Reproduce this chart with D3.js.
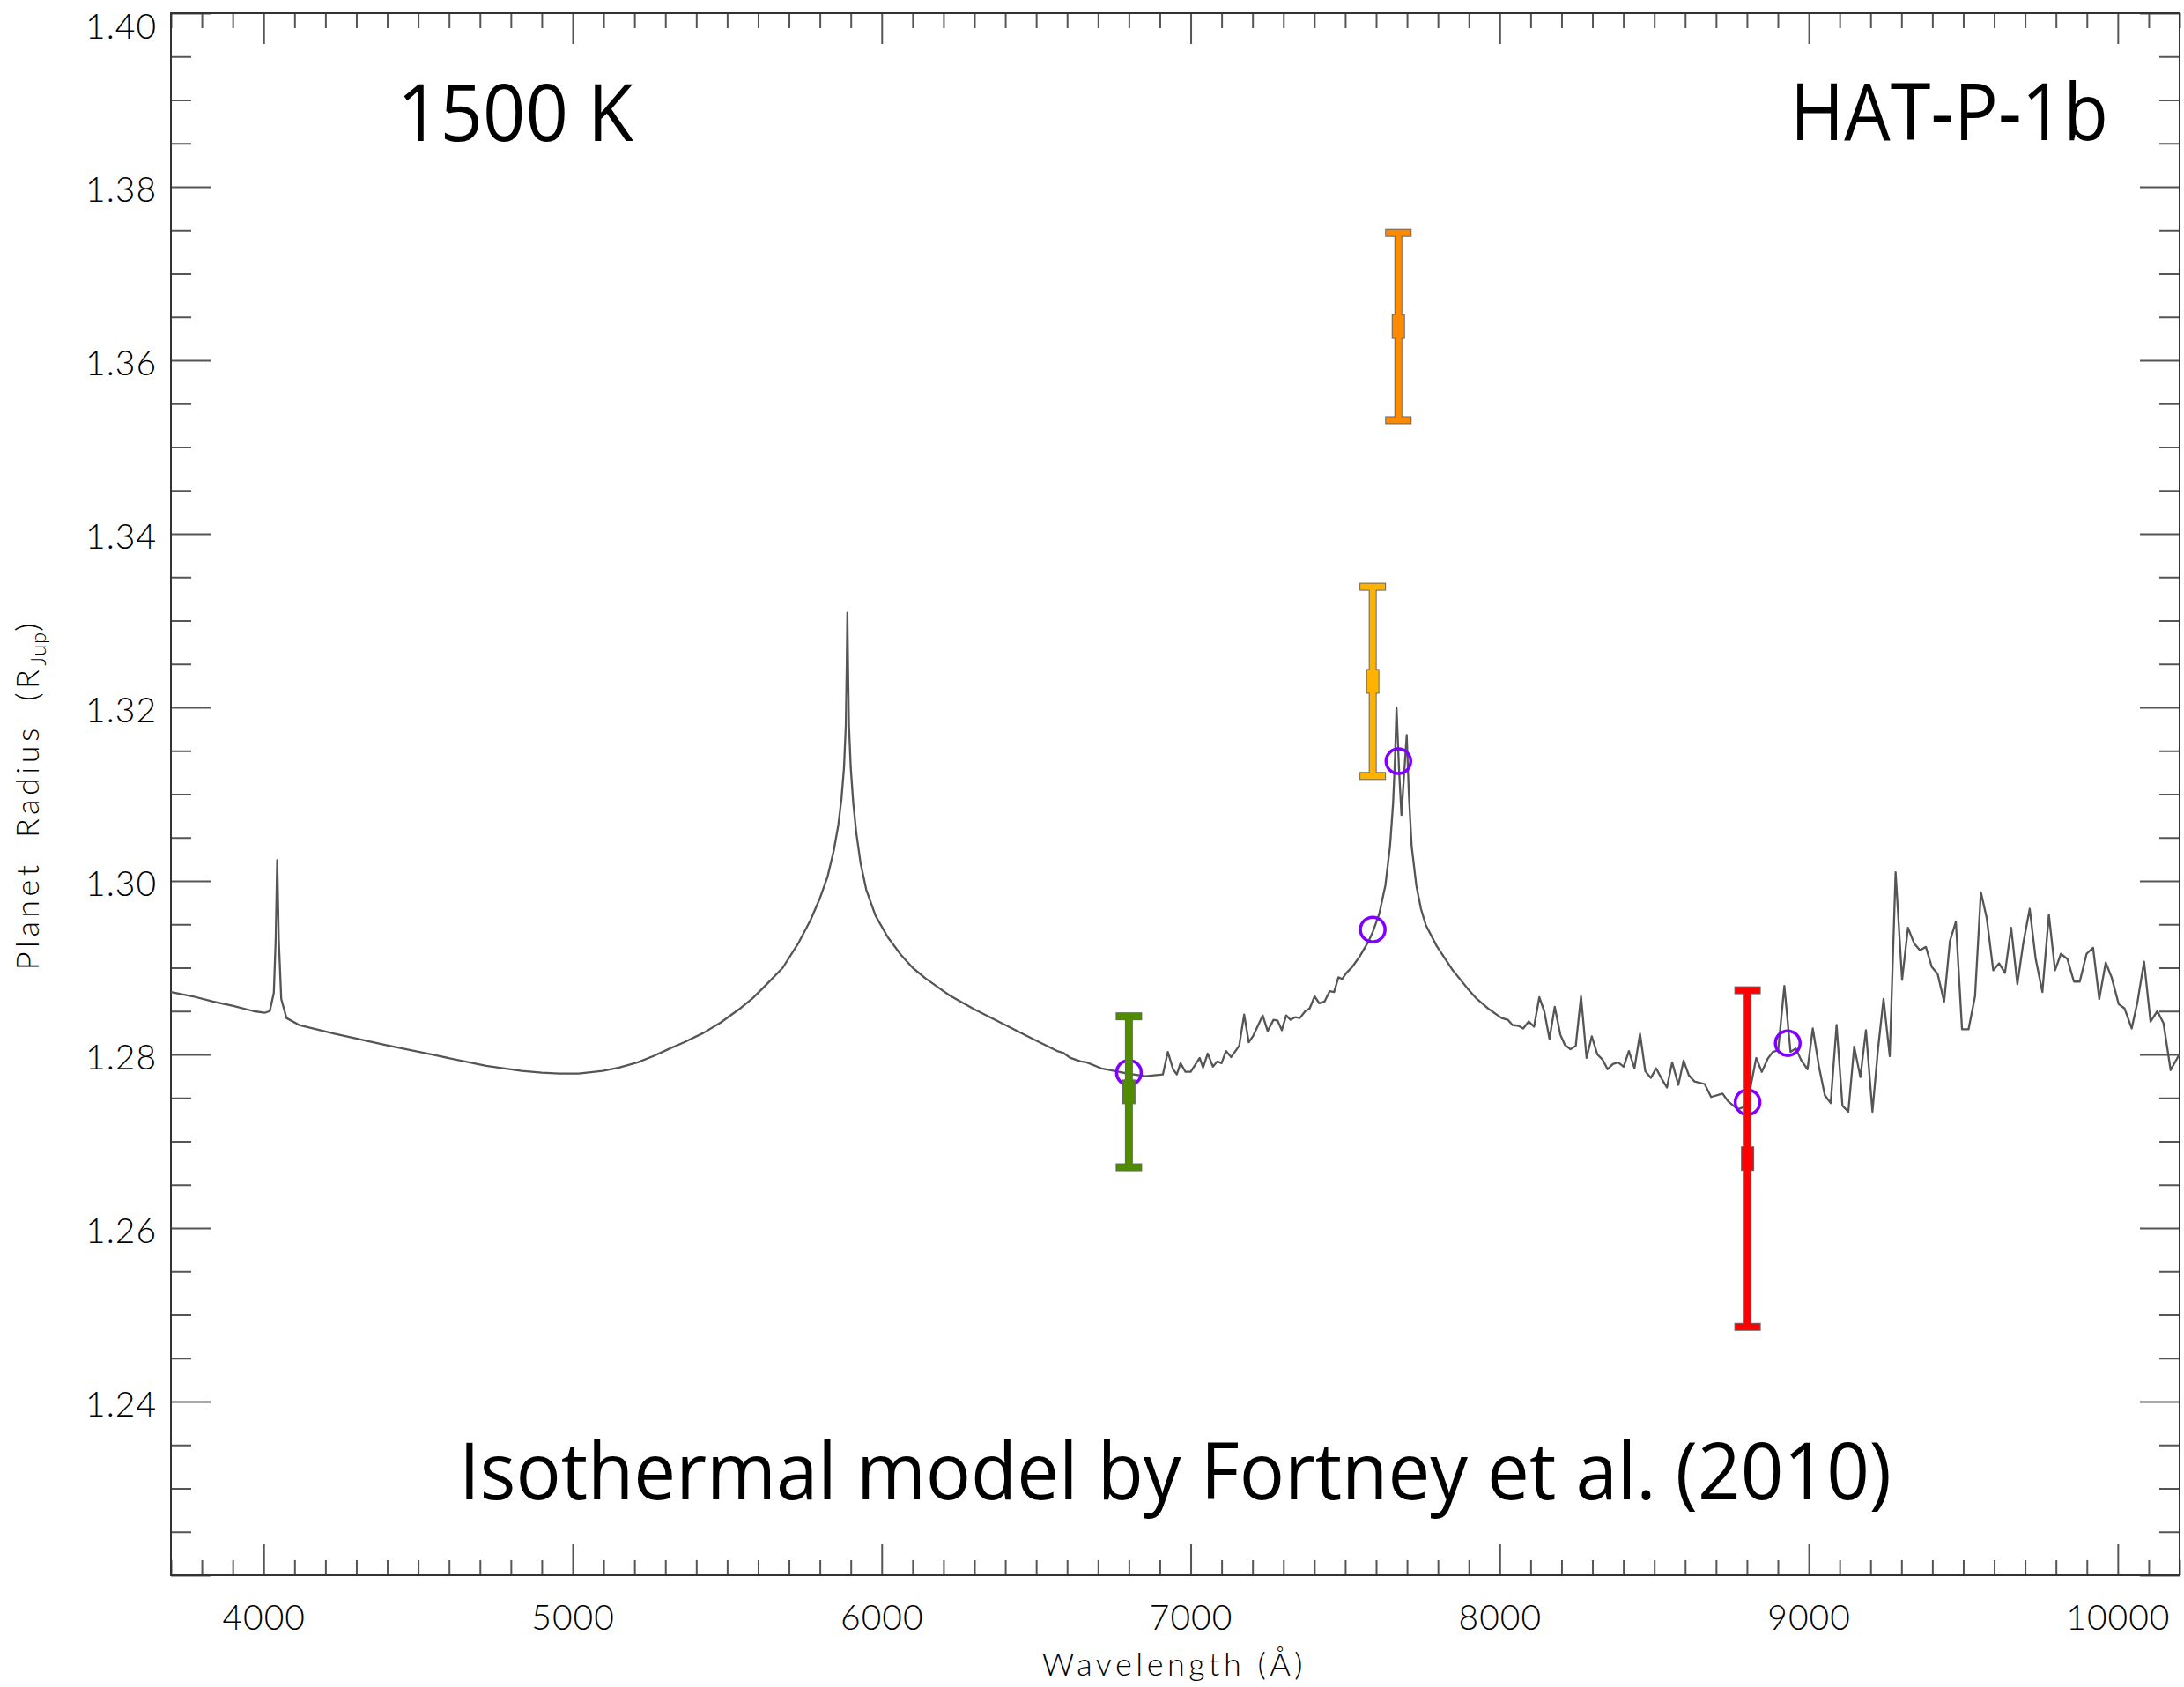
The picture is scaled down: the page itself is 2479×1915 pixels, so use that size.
<!DOCTYPE html>
<html>
<head>
<meta charset="utf-8">
<script src="https://cdn.jsdelivr.net/npm/d3@7"></script>
<style>
  html, body { margin: 0; padding: 0; background: #fff; }
  svg { display: block; }
</style>
</head>
<body>
<script>
// ---------------- data ----------------
const wavelength = [3700,3771,3836,3902,3967,4003,4020,4033,4039,4044,4049,4057,4074,4115,4229,4393,4556,4720,4835,4900,4957,5020,5097,5150,5211,5260,5309,5360,5424,5480,5538,5580,5620,5680,5730,5770,5800,5825,5845,5860,5870,5878,5884,5887,5889,5891,5894,5900,5908,5918,5932,5950,5980,6020,6062,6100,6141,6180,6220,6300,6400,6500,6568,6587,6611,6644,6663,6711,6753,6796,6853,6910,6926,6943,6955,6967,6983,7000,7029,7040,7055,7072,7086,7100,7114,7131,7157,7173,7188,7203,7233,7249,7268,7281,7295,7309,7323,7338,7353,7371,7385,7401,7416,7433,7450,7464,7478,7490,7504,7523,7547,7575,7590,7610,7630,7645,7655,7661,7666,7674,7682,7690,7699,7706,7715,7730,7745,7761,7796,7846,7896,7926,7966,8006,8026,8041,8061,8076,8094,8111,8128,8144,8161,8178,8196,8211,8229,8246,8263,8281,8298,8316,8333,8349,8366,8383,8401,8418,8436,8454,8471,8489,8506,8524,8541,8558,8578,8595,8612,8630,8663,8684,8721,8739,8770,8787,8804,8830,8848,8867,8884,8901,8921,8941,8958,8976,8996,9013,9033,9052,9071,9090,9109,9128,9147,9167,9185,9206,9224,9242,9262,9281,9302,9321,9341,9360,9379,9398,9417,9438,9457,9476,9496,9517,9538,9557,9576,9597,9616,9635,9655,9675,9694,9715,9734,9756,9777,9797,9816,9837,9858,9877,9899,9920,9940,9961,9980,10003,10022,10045,10064,10085,10106,10128,10148,10171,10199];
const modelRadius = [1.2872,1.2867,1.2861,1.2856,1.2850,1.2848,1.2850,1.2871,1.2932,1.3024,1.2932,1.2864,1.2842,1.2834,1.2824,1.2811,1.2799,1.2787,1.2781,1.2779,1.2778,1.2778,1.2781,1.2785,1.2791,1.2798,1.2806,1.2814,1.2825,1.2837,1.2852,1.2864,1.2878,1.2900,1.2928,1.2955,1.2980,1.3005,1.3035,1.3065,1.3095,1.3130,1.3180,1.3250,1.3309,1.3250,1.3180,1.3130,1.3090,1.3055,1.3020,1.2990,1.2960,1.2935,1.2915,1.2900,1.2888,1.2878,1.2868,1.2852,1.2834,1.2816,1.2804,1.2802,1.2796,1.2792,1.2791,1.2784,1.2781,1.2778,1.2775,1.2777,1.2803,1.2783,1.2777,1.2790,1.2780,1.2780,1.2796,1.2785,1.2801,1.2786,1.2792,1.2790,1.2804,1.2797,1.2810,1.2846,1.2814,1.2822,1.2845,1.2827,1.2840,1.2839,1.2828,1.2845,1.2840,1.2843,1.2842,1.2850,1.2853,1.2867,1.2859,1.2861,1.2873,1.2872,1.2889,1.2887,1.2894,1.2901,1.2913,1.2930,1.2942,1.2962,1.2995,1.3040,1.3090,1.3140,1.3200,1.3130,1.3076,1.3120,1.3168,1.3100,1.3040,1.2995,1.2968,1.2949,1.2925,1.2898,1.2876,1.2864,1.2852,1.2842,1.2840,1.2834,1.2833,1.2830,1.2838,1.2832,1.2866,1.2850,1.2818,1.2855,1.2823,1.2811,1.2806,1.2810,1.2867,1.2796,1.2821,1.2800,1.2794,1.2783,1.2789,1.2791,1.2786,1.2804,1.2784,1.2824,1.2781,1.2773,1.2784,1.2772,1.2762,1.2791,1.2765,1.2793,1.2776,1.2769,1.2766,1.2751,1.2755,1.2746,1.2737,1.2739,1.2749,1.2796,1.2780,1.2795,1.2803,1.2805,1.2879,1.2803,1.2807,1.2793,1.2783,1.2830,1.2786,1.2753,1.2744,1.2834,1.2741,1.2734,1.2809,1.2774,1.2828,1.2734,1.2806,1.2864,1.2798,1.3010,1.2886,1.2946,1.2928,1.2920,1.2924,1.2901,1.2893,1.2861,1.2931,1.2953,1.2829,1.2829,1.2867,1.2987,1.2957,1.2897,1.2905,1.2894,1.2946,1.2881,1.2928,1.2968,1.2911,1.2872,1.2961,1.2897,1.2916,1.2910,1.2884,1.2884,1.2916,1.2923,1.2864,1.2906,1.2889,1.2858,1.2853,1.2830,1.2861,1.2907,1.2838,1.2850,1.2836,1.2782,1.2800];

// binned model points (purple circles)
const binWavelength = [6800, 7589, 7672, 8802, 8932];
const binRadius     = [1.2779, 1.2944, 1.3138, 1.2745, 1.2813];

// measured radii with error bars
const obsWavelength = [6800, 7589, 7672, 8802];
const obsRadius     = [1.2757, 1.3230, 1.3639, 1.2680];
const obsError      = [0.0087, 0.0109, 0.0108, 0.0194];
const obsColor      = ["#4f8c00", "#ffb300", "#ff8a00", "#ff0000"];

// axes
const xMajorTicks = [4000, 5000, 6000, 7000, 8000, 9000, 10000];
const yMajorTicks = [1.22, 1.24, 1.26, 1.28, 1.30, 1.32, 1.34, 1.36, 1.38, 1.40];
const yLabelTicks = [1.24, 1.26, 1.28, 1.30, 1.32, 1.34, 1.36, 1.38, 1.40];

const titleLeft   = "1500 K";
const titleRight  = "HAT-P-1b";
const captionText = "Isothermal model by Fortney et al. (2010)";
const xTitle = "Wavelength (Å)";

// ---------------- layout ----------------
const W = 2479, H = 1915;
const L = 194, R = 2474, T = 15, B = 1788;

const svg = d3.select("body").append("svg")
  .attr("width", W).attr("height", H)
  .attr("viewBox", `0 0 ${W} ${H}`);

const x = d3.scaleLinear().domain([3700, 10200]).range([L, R]);
const y = d3.scaleLinear().domain([1.22, 1.40]).range([B, T]);

const xMinor = d3.range(3700, 10201, 100).filter(v => v % 1000 !== 0);
const yMinor = d3.range(0, 37).map(i => +(1.22 + i * 0.005).toFixed(3))
  .filter(v => !yMajorTicks.some(m => Math.abs(m - v) < 1e-6));

const tickColor = "#555";
const labelFont = "Lato, 'Open Sans', sans-serif";

function styleAxis(g) {
  g.select(".domain").remove();
  g.selectAll(".tick line").attr("stroke", tickColor).attr("stroke-width", 2);
  g.selectAll(".tick text")
    .attr("fill", "#000")
    .style("font-family", labelFont)
    .style("font-weight", 300)
    .style("font-size", "39px")
    .style("letter-spacing", "1px");
}

// bottom
svg.append("g").attr("transform", `translate(0,${B})`)
  .call(d3.axisBottom(x).tickValues(xMinor).tickSize(-17).tickFormat(""))
  .call(styleAxis);
svg.append("g").attr("transform", `translate(0,${B})`)
  .call(d3.axisBottom(x).tickValues(xMajorTicks).tickSize(-35).tickPadding(34)
    .tickFormat(d3.format("d")))
  .call(styleAxis);
// top
svg.append("g").attr("transform", `translate(0,${T})`)
  .call(d3.axisTop(x).tickValues(xMinor).tickSize(-17).tickFormat(""))
  .call(styleAxis);
svg.append("g").attr("transform", `translate(0,${T})`)
  .call(d3.axisTop(x).tickValues(xMajorTicks).tickSize(-35).tickFormat(""))
  .call(styleAxis);
// left
svg.append("g").attr("transform", `translate(${L},0)`)
  .call(d3.axisLeft(y).tickValues(yMinor).tickSize(-23).tickFormat(""))
  .call(styleAxis);
svg.append("g").attr("transform", `translate(${L},0)`)
  .call(d3.axisLeft(y).tickValues(yMajorTicks).tickSize(-45).tickPadding(16)
    .tickFormat(d => yLabelTicks.some(v => Math.abs(v - d) < 1e-6) ? d3.format(".2f")(d) : ""))
  .call(styleAxis)
  .call(g => g.selectAll(".tick text")
    .attr("dy", d => (y(d) < T + 10 ? "0.71em" : "0.42em"))
    .attr("y", d => (y(d) < T + 10 ? 1 : 0)));
// right
svg.append("g").attr("transform", `translate(${R},0)`)
  .call(d3.axisRight(y).tickValues(yMinor).tickSize(-23).tickFormat(""))
  .call(styleAxis);
svg.append("g").attr("transform", `translate(${R},0)`)
  .call(d3.axisRight(y).tickValues(yMajorTicks).tickSize(-45).tickFormat(""))
  .call(styleAxis);

// frame
svg.append("rect").attr("x", L).attr("y", T).attr("width", R - L).attr("height", B - T)
  .attr("fill", "none").attr("stroke", "#333").attr("stroke-width", 2);

// ---------------- model spectrum ----------------
const spectrum = wavelength.map((w, i) => [w, modelRadius[i]]);
svg.append("path")
  .datum(spectrum)
  .attr("fill", "none")
  .attr("stroke", "#555")
  .attr("stroke-width", 2.3)
  .attr("stroke-linejoin", "round")
  .attr("d", d3.line().x(d => x(d[0])).y(d => y(d[1])));

// binned model circles
svg.append("g").selectAll("circle")
  .data(binWavelength.map((w, i) => [w, binRadius[i]]))
  .join("circle")
  .attr("cx", d => x(d[0])).attr("cy", d => y(d[1]))
  .attr("r", 14)
  .attr("fill", "none")
  .attr("stroke", "#7f00ff")
  .attr("stroke-width", 3.5);

// ---------------- error bars ----------------
const obs = obsWavelength.map((w, i) => ({ w, v: obsRadius[i], e: obsError[i], c: obsColor[i] }));
function barShapes(d) {
  const cx = x(d.w), yt = y(d.v + d.e), yb = y(d.v - d.e), yc = y(d.v);
  return [
    { x: cx - 3.5, y: yt, w: 7, h: yb - yt },
    { x: cx - 14, y: yt - 3.5, w: 28, h: 7 },
    { x: cx - 14, y: yb - 3.5, w: 28, h: 7 },
    { x: cx - 6.5, y: yc - 13, w: 13, h: 26 }
  ];
}
const bars = svg.append("g").selectAll("g").data(obs).join("g");
bars.each(function (d) {
  d3.select(this).selectAll("rect.o").data(barShapes(d)).join("rect")
    .attr("class", "o")
    .attr("x", s => s.x).attr("y", s => s.y).attr("width", s => s.w).attr("height", s => s.h)
    .attr("fill", d.c).attr("stroke", "#666").attr("stroke-width", 2);
});
bars.each(function (d) {
  d3.select(this).selectAll("rect.f").data(barShapes(d)).join("rect")
    .attr("class", "f")
    .attr("x", s => s.x).attr("y", s => s.y).attr("width", s => s.w).attr("height", s => s.h)
    .attr("fill", d.c);
});

// ---------------- texts ----------------
const bigFont = "'Open Sans', 'Noto Sans', sans-serif";
svg.append("text").attr("x", 451).attr("y", 160)
  .attr("textLength", 268).attr("lengthAdjust", "spacingAndGlyphs")
  .style("font-family", bigFont).style("font-size", "90px").attr("fill", "#000")
  .text(titleLeft);
svg.append("text").attr("x", 2032).attr("y", 159)
  .attr("textLength", 361).attr("lengthAdjust", "spacingAndGlyphs")
  .style("font-family", bigFont).style("font-size", "90px").attr("fill", "#000")
  .text(titleRight);
svg.append("text").attr("x", 521).attr("y", 1702)
  .attr("textLength", 1626).attr("lengthAdjust", "spacingAndGlyphs")
  .style("font-family", bigFont).style("font-size", "90px").attr("fill", "#000")
  .text(captionText);

// x title
svg.append("text").attr("x", 1333).attr("y", 1902)
  .attr("text-anchor", "middle")
  .style("font-family", labelFont).style("font-weight", 300)
  .style("font-size", "36px").style("letter-spacing", "4.5px")
  .attr("fill", "#000")
  .text(xTitle);

// y title
const yt = svg.append("text")
  .attr("transform", "translate(44,902) rotate(-90)")
  .attr("text-anchor", "middle")
  .style("font-family", labelFont).style("font-weight", 300)
  .style("font-size", "36px").style("letter-spacing", "4.5px").style("word-spacing", "12px")
  .attr("fill", "#000");
yt.append("tspan").text("Planet Radius (R");
yt.append("tspan").attr("dy", 8).style("font-size", "24px").style("letter-spacing", "1px").text("Jup");
yt.append("tspan").attr("dy", -8).text(")");
</script>
</body>
</html>
